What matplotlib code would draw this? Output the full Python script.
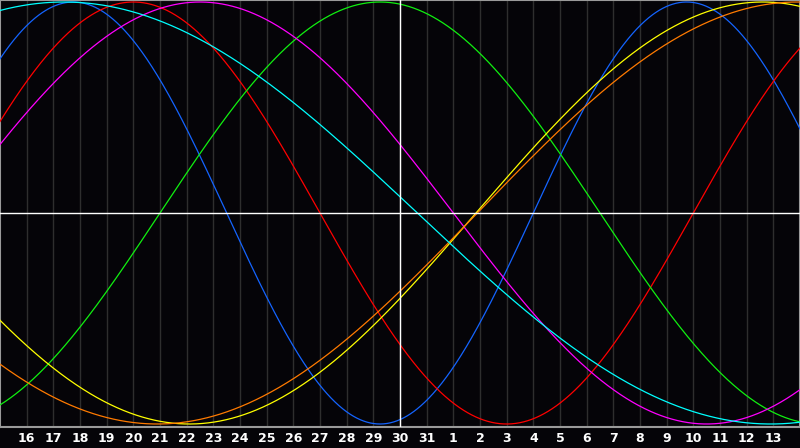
import numpy as np
import matplotlib
matplotlib.use("Agg")
import matplotlib.pyplot as plt
import matplotlib.transforms as mtransforms

# Day positions (t) and their labels
day_positions = list(range(16, 45))
day_labels = [str(d) for d in range(16, 32)] + [str(d) for d in range(1, 14)]
today = 30

# Biorhythm cycles: period (days) and day of peak
cycle_names = ["Physical", "Emotional", "Intellectual", "Intuitive",
               "Aesthetic", "Awareness", "Spiritual"]
cycle_periods = [23, 28, 33, 38, 43, 48, 53]
cycle_peaks = [17.75, 20.0, 29.25, 22.5, 43.6, 44.9, 17.4]
cycle_colors = ["#1464ff", "#ff0000", "#10f010", "#ff00ff",
                "#ffff00", "#ff7a00", "#00ffff"]

fig = plt.figure(figsize=(8, 4.48), dpi=100)
fig.patch.set_facecolor("#050408")
ax = fig.add_axes([0, 21 / 448, 1, 427 / 448])
ax.set_facecolor("#050408")

x_min, x_max = 15, 45
ax.set_xlim(x_min, x_max)
ax.set_ylim(-1.0142, 1.0095)

for t in day_positions:
    ax.axvline(t, color="#2e2e2e", lw=1.0, zorder=1)

t = np.linspace(x_min, x_max, 1200)
for name, p, pk, c in zip(cycle_names, cycle_periods, cycle_peaks, cycle_colors):
    ax.plot(t, np.cos(2 * np.pi * (t - pk) / p), color=c, lw=0.9, zorder=3)

ax.axhline(0, color="white", lw=1.0, zorder=4)
ax.axvline(today, color="white", lw=1.0, zorder=4)

ax.set_xticks([])
ax.set_yticks([])
for s in ax.spines.values():
    s.set_color("#9a9a9a")
    s.set_linewidth(1.5)

off = mtransforms.ScaledTranslation(0, -11.5 / 100, fig.dpi_scale_trans)
for pos, lab in zip(day_positions, day_labels):
    ax.text(pos, -1.0142, lab, transform=ax.transData + off, color="white",
            fontsize=9, fontweight="bold", family="DejaVu Sans",
            ha="center", va="center", clip_on=False)

fig.savefig("out.png", dpi=100, facecolor=fig.get_facecolor())
